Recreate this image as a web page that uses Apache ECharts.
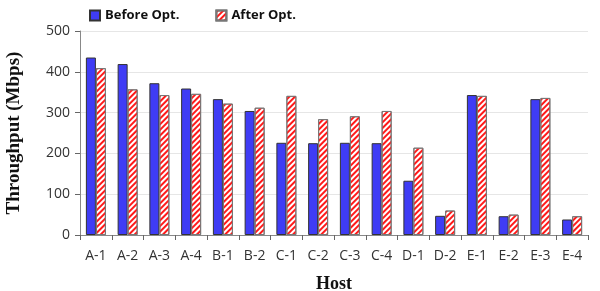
<!DOCTYPE html>
<html>
<head>
<meta charset="utf-8">
<script src="https://cdn.jsdelivr.net/npm/echarts@6/dist/echarts.min.js"></script>
<style>
  html, body { margin: 0; padding: 0; background: #fff; }
  #chart { width: 600px; height: 291px; }
</style>
</head>
<body>
<div id="chart"></div>
<script>
// data
const hosts = ['A-1', 'A-2', 'A-3', 'A-4', 'B-1', 'B-2', 'C-1', 'C-2', 'C-3', 'C-4', 'D-1', 'D-2', 'E-1', 'E-2', 'E-3', 'E-4'];
const beforeOpt = [435, 419, 372, 359, 333, 304, 226, 225, 226, 225, 133, 47, 343, 46, 333, 38];
const afterOpt = [409, 357, 343, 346, 322, 312, 341, 284, 291, 304, 214, 60, 341, 50, 336, 46];

const myChart = echarts.init(document.getElementById('chart'));

const option = {
  animation: false,
  legend: {
    top: 4,
    left: 84,
    itemGap: 36,
    itemWidth: 10,
    itemHeight: 10,
    textStyle: {
      fontFamily: 'Open Sans',
      fontWeight: 'bold',
      fontSize: 13,
      color: '#111'
    },
    data: [
      { name: 'Before Opt.', icon: 'rect' },
      { name: 'After Opt.', icon: 'rect' }
    ]
  },
  grid: {
    left: 80,
    right: 12,
    top: 31,
    bottom: 56,
    outerBoundsMode: 'none'
  },
  xAxis: {
    type: 'category',
    data: hosts,
    name: 'Host',
    nameLocation: 'middle',
    nameGap: 40,
    nameTextStyle: {
      fontFamily: 'Liberation Serif',
      fontWeight: 'bold',
      fontSize: 18,
      color: '#111'
    },
    axisLine: { lineStyle: { color: '#888' } },
    axisTick: { show: true, length: 5, alignWithLabel: false, lineStyle: { color: '#666' } },
    axisLabel: {
      margin: 14,
      fontFamily: 'Open Sans',
      fontSize: 14,
      color: '#333'
    }
  },
  yAxis: {
    type: 'value',
    min: 0,
    max: 500,
    interval: 100,
    name: 'Throughput (Mbps)',
    nameLocation: 'middle',
    nameGap: 56,
    nameTextStyle: {
      fontFamily: 'Liberation Serif',
      fontWeight: 'bold',
      fontSize: 19,
      color: '#111'
    },
    axisLine: { show: true, lineStyle: { color: '#888' } },
    axisTick: { show: true, length: 5, lineStyle: { color: '#666' } },
    axisLabel: {
      margin: 10,
      fontFamily: 'Open Sans',
      fontSize: 14,
      color: '#333'
    },
    splitLine: { lineStyle: { color: '#e6e6e6' } }
  },
  series: [
    {
      name: 'Before Opt.',
      type: 'bar',
      data: beforeOpt,
      barWidth: 10,
      barGap: '0%',
      itemStyle: {
        color: '#3f3cf5',
        borderColor: '#333',
        borderWidth: 1
      }
    },
    {
      name: 'After Opt.',
      type: 'bar',
      data: afterOpt,
      barWidth: 10,
      itemStyle: {
        color: '#ffffff',
        borderColor: '#777',
        borderWidth: 1,
        decal: {
          symbol: 'rect',
          color: '#ff1a1a',
          dashArrayX: [1, 0],
          dashArrayY: [2, 2],
          rotation: -Math.PI / 4,
          symbolSize: 1
        }
      }
    }
  ]
};

myChart.setOption(option);
</script>
</body>
</html>
